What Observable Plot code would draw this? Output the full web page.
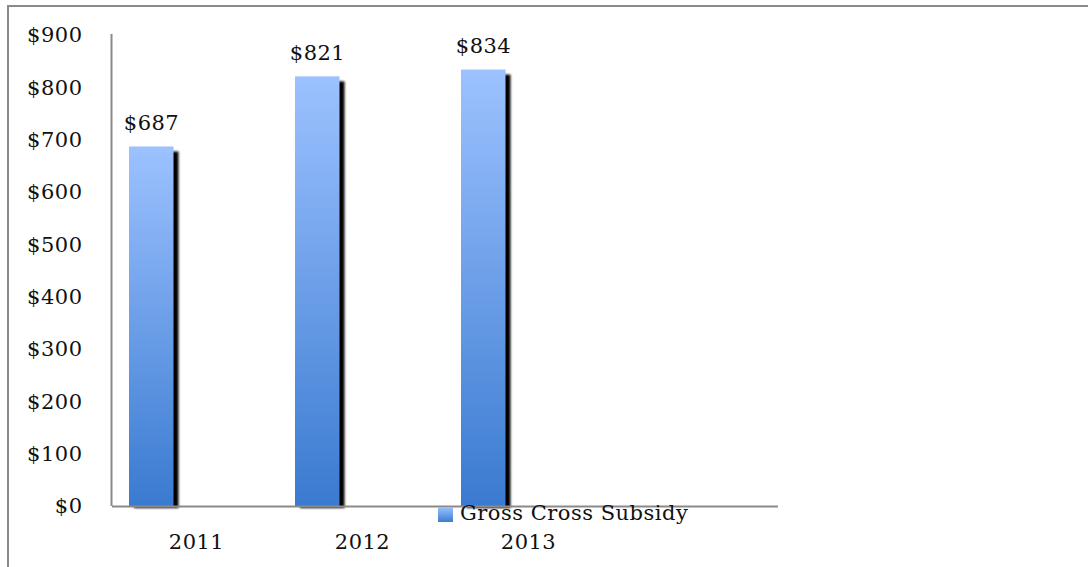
<!DOCTYPE html>
<html>
<head>
<meta charset="utf-8">
<script src="https://cdn.jsdelivr.net/npm/d3@7"></script>
<script src="https://cdn.jsdelivr.net/npm/@observablehq/plot@0.6"></script>
<style>
  html, body { margin: 0; padding: 0; background: #fff; }
  #wrap { position: relative; width: 1088px; height: 567px; overflow: hidden; }
  #border { position: absolute; left: 7px; top: 5px; width: 1090px; height: 600px; border: 2px solid #8a8a8a; box-sizing: border-box; }
  #chart { position: absolute; left: 0; top: 0; }
  #legend { position: absolute; left: 438px; top: 501px; font-family: "DejaVu Serif", serif; font-size: 21px; letter-spacing: 0.5px; color: #111; display: flex; align-items: center; }
  #legend .sw { width: 15px; height: 15px; background: linear-gradient(#9cc2ff, #3c7ccf); margin-right: 7px; margin-top: 2px; }
</style>
</head>
<body>
<div id="wrap">
  <div id="border"></div>
  <div id="chart"></div>
  <div id="legend"><span class="sw"></span><span id="legendText"></span></div>
</div>
<script>
const years = ["2011", "2012", "2013"];
const values = [687, 821, 834];
const slots = ["2011", "2012", "2013", "2014"];
const seriesName = "Gross Cross Subsidy";
const yTicks = [0, 100, 200, 300, 400, 500, 600, 700, 800, 900];

const data = years.map((year, i) => ({year, value: values[i]}));

const plot = Plot.plot({
  width: 1088,
  height: 567,
  marginLeft: 112,
  marginRight: 310,
  marginTop: 35,
  marginBottom: 61,
  style: {background: "transparent", fontFamily: "DejaVu Serif, serif", fontSize: "21px", color: "#111"},
  x: {domain: slots, padding: 0, label: null},
  y: {domain: [0, 900], label: null},
  marks: [
    Plot.axisY({ticks: yTicks, tickSize: 0, tickPadding: 30, tickFormat: d => "$" + d, label: null, fontSize: 21, fill: "#111"}),
    Plot.axisX({ticks: years, tickSize: 0, tickPadding: 28, label: null, fontSize: 21, fill: "#111"}),
    Plot.barY(data, {x: "year", y: "value", fill: "#000", insetLeft: 16, insetRight: 105.5, insetBottom: 3, dx: 5, dy: 5, className: "shadow"}),
    Plot.barY(data, {x: "year", y: "value", fill: "url(#barGrad)", insetLeft: 16, insetRight: 105.5}),
    Plot.ruleY([0], {stroke: "#8a8a8a", strokeWidth: 2}),
    Plot.text(data, {x: "year", y: "value", text: d => "$" + d.value, dx: -45, dy: -24, fontSize: 21, fill: "#111"})
  ]
});

const svg = d3.select(plot);
const defs = svg.insert("defs", ":first-child");
const g = defs.append("linearGradient").attr("id", "barGrad").attr("x1", 0).attr("y1", 0).attr("x2", 0).attr("y2", 1);
g.append("stop").attr("offset", "0%").attr("stop-color", "#9cc2ff");
g.append("stop").attr("offset", "100%").attr("stop-color", "#3a7ad0");
defs.append("filter").attr("id", "blur").append("feGaussianBlur").attr("stdDeviation", 0.8);
svg.selectAll(".shadow").attr("filter", "url(#blur)");
svg.selectAll("text").style("letter-spacing", "0.5px");

const xs = plot.scale("x"), ys = plot.scale("y");
svg.append("line")
  .attr("x1", xs.range[0] - 0.5).attr("x2", xs.range[0] - 0.5)
  .attr("y1", ys.range[1] - 1).attr("y2", ys.range[0])
  .attr("stroke", "#8a8a8a").attr("stroke-width", 2);

document.getElementById("chart").append(plot);
document.getElementById("legendText").textContent = seriesName;
</script>
</body>
</html>
